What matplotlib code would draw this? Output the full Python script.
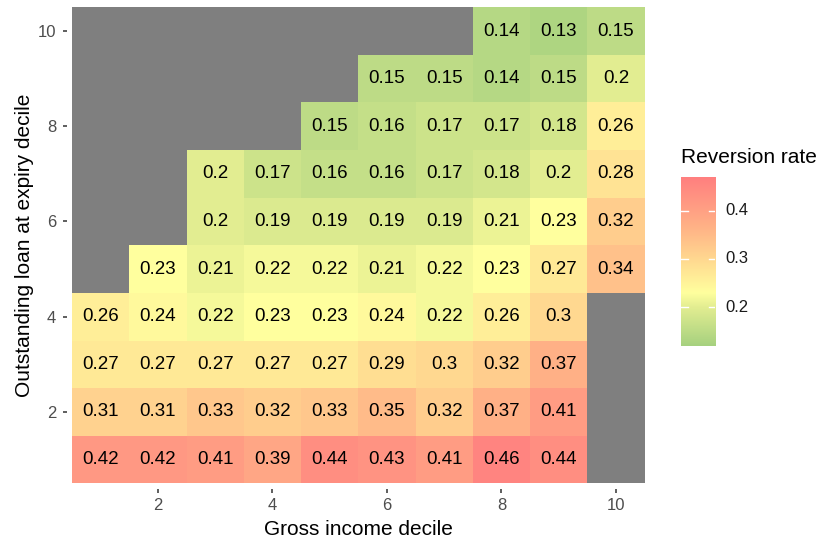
import numpy as np
import matplotlib
matplotlib.use("Agg")
import matplotlib.pyplot as plt

plt.rcParams['font.family'] = ['Liberation Sans', 'DejaVu Sans']

# Gross income decile (x) and outstanding loan decile (y) for each row of values
income_deciles = list(range(1, 11))
loan_deciles = list(range(1, 11))

# Reversion rate by loan decile (row) and income decile (column); None = no data
rate_y1 = [0.42, 0.42, 0.41, 0.39, 0.44, 0.43, 0.41, 0.46, 0.44, None]
rate_y2 = [0.31, 0.31, 0.33, 0.32, 0.33, 0.35, 0.32, 0.37, 0.41, None]
rate_y3 = [0.27, 0.27, 0.27, 0.27, 0.27, 0.29, 0.30, 0.32, 0.37, None]
rate_y4 = [0.26, 0.24, 0.22, 0.23, 0.23, 0.24, 0.22, 0.26, 0.30, None]
rate_y5 = [None, 0.23, 0.21, 0.22, 0.22, 0.21, 0.22, 0.23, 0.27, 0.34]
rate_y6 = [None, None, 0.20, 0.19, 0.19, 0.19, 0.19, 0.21, 0.23, 0.32]
rate_y7 = [None, None, 0.20, 0.17, 0.16, 0.16, 0.17, 0.18, 0.20, 0.28]
rate_y8 = [None, None, None, None, 0.15, 0.16, 0.17, 0.17, 0.18, 0.26]
rate_y9 = [None, None, None, None, None, 0.15, 0.15, 0.14, 0.15, 0.20]
rate_y10 = [None, None, None, None, None, None, None, 0.14, 0.13, 0.15]

rows = [rate_y1, rate_y2, rate_y3, rate_y4, rate_y5,
        rate_y6, rate_y7, rate_y8, rate_y9, rate_y10]

x_ticks = [2, 4, 6, 8, 10]
y_ticks = [2, 4, 6, 8, 10]
legend_ticks = [0.2, 0.3, 0.4]

# semi-transparent green -> yellow -> red fill scale (already blended on white)
scale_stops = [0.12, 0.20, 0.23, 0.30, 0.37, 0.47]
scale_colours = ['#A6D17F', '#E2ED91', '#FFFF9E', '#FFD890', '#FFB086', '#FF7F7F']

stop_rgb = np.array([[int(c[i:i + 2], 16) / 255 for i in (1, 3, 5)] for c in scale_colours])


def fill_colour(v):
    return np.array([np.interp(v, scale_stops, stop_rgb[:, k]) for k in range(3)])


vmin, vmax = 0.12, 0.47

fig = plt.figure(figsize=(8.2, 5.43), dpi=100)
ax = fig.add_axes([72 / 820, 1 - 483.4 / 543, (644.6 - 72) / 820, (483.4 - 7.2) / 543])
ax.set_facecolor('#7F7F7F')

for yi, row in zip(loan_deciles, rows):
    for xi, v in zip(income_deciles, row):
        if v is None:
            continue
        ax.add_patch(plt.Rectangle((xi - 0.5, yi - 0.5), 1, 1,
                                   facecolor=fill_colour(v), edgecolor='none'))
        ax.text(xi, yi, f"{v:g}", ha='center', va='center', fontsize=13.5, color='black')

ax.set_xlim(0.5, 10.5)
ax.set_ylim(0.5, 10.5)
ax.set_xticks(x_ticks)
ax.set_yticks(y_ticks)
ax.set_xticklabels([str(t) for t in x_ticks])
ax.set_yticklabels([str(t) for t in y_ticks])
# ticks sit slightly away from the panel edge
ax.spines['bottom'].set_position(('outward', 4))
ax.spines['left'].set_position(('outward', 3.6))
ax.tick_params(axis='x', length=3, width=1.1, color='#333333',
               labelcolor='#4D4D4D', labelsize=12, pad=3.5)
ax.tick_params(axis='y', length=3.2, width=1.1, color='#333333',
               labelcolor='#4D4D4D', labelsize=12, pad=4.5)
for s in ax.spines.values():
    s.set_visible(False)
ax.set_xlabel('Gross income decile', fontsize=15, labelpad=5)
ax.set_ylabel('Outstanding loan at expiry decile', fontsize=15, labelpad=3)

# colour bar
cb_left, cb_right, cb_top, cb_bottom = 681, 715.5, 176.7, 345.7
cax = fig.add_axes([cb_left / 820, 1 - cb_bottom / 543,
                    (cb_right - cb_left) / 820, (cb_bottom - cb_top) / 543])
grad = np.linspace(vmin, vmax, 300)
cols = np.array([fill_colour(g) for g in grad])[:, None, :]
cax.imshow(cols, aspect='auto', origin='lower', extent=[0, 1, vmin, vmax])
cax.set_xlim(0, 1)
cax.set_ylim(vmin, vmax)
for t in legend_ticks:
    cax.plot([0, 0.2], [t, t], color='white', lw=1)
    cax.plot([0.8, 1], [t, t], color='white', lw=1)
    cax.text(1.28, t, f"{t:g}", ha='left', va='center', fontsize=12,
             color='#1A1A1A', transform=cax.get_yaxis_transform())
cax.set_xticks([])
cax.set_yticks([])
for s in cax.spines.values():
    s.set_visible(False)
fig.text(cb_left / 820, 1 - 158 / 543, 'Reversion rate', fontsize=15,
         ha='left', va='center')

fig.savefig('out.png', dpi=100)
